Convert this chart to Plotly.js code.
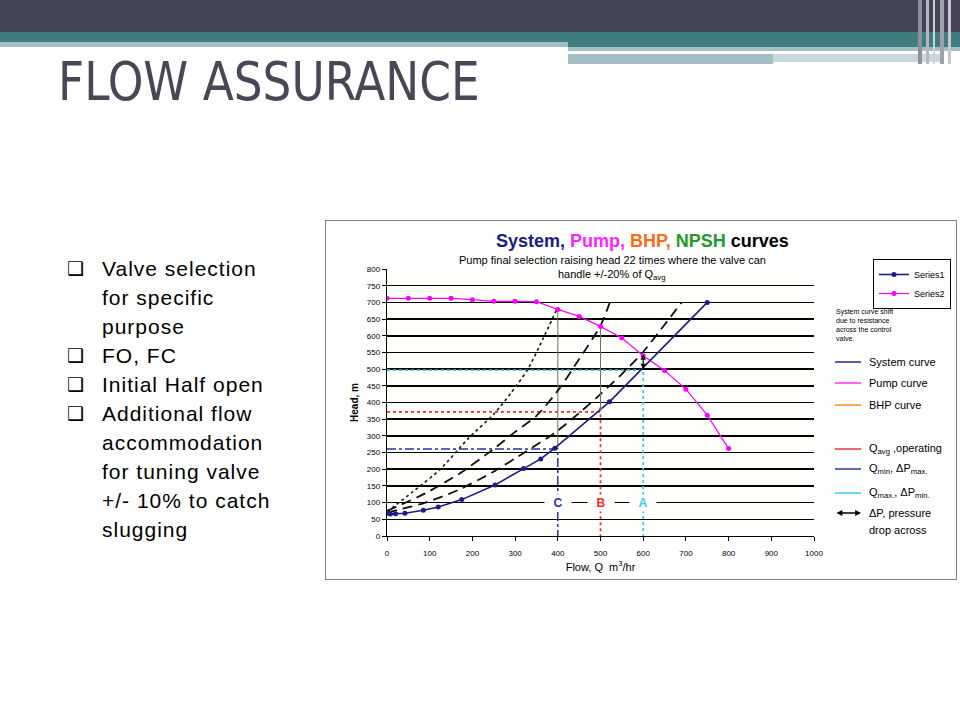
<!DOCTYPE html>
<html><head><meta charset="utf-8">
<script src="https://cdn.plot.ly/plotly-3.0.1.min.js"></script>
<style>
html,body{margin:0;padding:0;background:#fff;}
#slide{position:relative;width:960px;height:720px;overflow:hidden;background:#fff;font-family:"Liberation Sans",Arial,sans-serif;}
.band{position:absolute;}
#title{position:absolute;left:58px;top:52px;font-family:"Liberation Sans Narrow","DejaVu Sans Condensed","Liberation Sans",sans-serif;font-size:54px;line-height:60px;color:#474856;white-space:nowrap;transform:scaleX(0.935);transform-origin:0 0;}
#bullets{position:absolute;left:68px;top:254px;font-size:21px;line-height:29px;color:#000;white-space:nowrap;letter-spacing:1px;}
.b{position:relative;padding-left:34px;}
.b .m{position:absolute;left:-1px;top:0px;font-family:"DejaVu Sans",sans-serif;font-size:19px;letter-spacing:0;}
#frame{position:absolute;left:325px;top:220px;width:632px;height:360px;border:1px solid #808080;box-sizing:border-box;}
#chart{position:absolute;left:326px;top:221px;width:630px;height:358px;}
</style></head>
<body>
<div id="slide">
  <div class="band" style="left:0;top:0;width:960px;height:32px;background:#434456;"></div>
  <div class="band" style="left:0;top:32px;width:960px;height:10px;background:#407d81;"></div>
  <div class="band" style="left:0;top:42px;width:568px;height:5px;background:#a4bfc3;"></div>
  <div class="band" style="left:568px;top:42px;width:392px;height:5px;background:#407d81;"></div>
  <div class="band" style="left:568px;top:47px;width:392px;height:4px;background:#a4bfc3;"></div>
  <div class="band" style="left:568px;top:54px;width:205px;height:10px;background:#a4bfc3;"></div>
  <div class="band" style="left:773px;top:54px;width:170px;height:8px;background:#c9d9db;"></div>
  <div class="band" style="left:918px;top:0;width:4px;height:64px;background:#8d8f99;"></div>
  <div class="band" style="left:926px;top:0;width:3px;height:64px;background:#b6b8c0;"></div>
  <div class="band" style="left:933px;top:0;width:2px;height:64px;background:#d0d2d8;"></div>
  <div class="band" style="left:940px;top:0;width:4px;height:64px;background:#9fa1aa;"></div>
  <div class="band" style="left:948px;top:0;width:3px;height:64px;background:#c5c7cd;"></div>
  <div id="title">FLOW ASSURANCE</div>
  <div id="bullets">
    <div class="b"><span class="m">&#x2751;</span>Valve selection<br>for specific<br>purpose</div>
    <div class="b"><span class="m">&#x2751;</span>FO, FC</div>
    <div class="b"><span class="m">&#x2751;</span>Initial Half open</div>
    <div class="b"><span class="m">&#x2751;</span>Additional flow<br>accommodation<br>for tuning valve<br>+/- 10% to catch<br>slugging</div>
  </div>
  <div id="frame"></div>
  <div id="chart"></div>
</div>
<script>
// ---- data ----
const pumpQ = [0, 50, 100, 150, 200, 250, 300, 350, 400, 450, 500, 550, 600, 650, 700, 750, 800];
const pumpH = [712, 712, 712, 712, 708, 703, 703, 702, 679, 658, 628, 593, 540, 496, 440, 362, 262];

const sysQ = [0, 8, 20, 42, 85, 120, 175, 253, 320, 360, 393, 521, 750];
const sysH = [68, 66, 67, 68, 77, 87, 109, 153, 202, 231, 263, 402, 700];

// system curves shifted by control-valve resistance
const dotQ = [0, 60, 125, 190, 250, 290, 330, 365, 398];
const dotH = [73, 132, 200, 292, 365, 428, 500, 590, 680];
const dash1Q = [0, 90, 171, 249, 300, 350, 401, 450, 500, 522];
const dash1H = [75, 128, 188, 260, 312, 360, 437, 530, 630, 700];
const dash2Q = [0, 90, 167, 246, 324, 393, 456, 500, 550, 597, 650, 690];
const dash2H = [70, 100, 138, 190, 252, 309, 375, 425, 485, 547, 633, 700];

// operating points C, B, A
const refLabels = ['C', 'B', 'A'];
const refQ = [400, 500, 600];
const refH = [261, 372, 497];
const dpTop = [680, 627, 549];
const dpBottom = [263, 372, 500];
const labelH = 100;

const yTicks = [0, 50, 100, 150, 200, 250, 300, 350, 400, 450, 500, 550, 600, 650, 700, 750, 800];
const xTicks = [0, 100, 200, 300, 400, 500, 600, 700, 800, 900, 1000];

// ---- styles ----
const NAVY = '#1c1c82', MAG = '#ff00ff';
const refColors = ['#2433b0', '#ff2a2a', '#3ccbe6'];
const refDash = ['dashdot', 'dot', 'dot'];

const traces = [];
for (let i = 0; i < 3; i++) {
  traces.push({x: [0, refQ[i], refQ[i]], y: [refH[i], refH[i], 0], mode: 'lines',
    line: {color: refColors[i], width: i === 0 ? 1.5 : 1.7, dash: refDash[i]}, showlegend: false, hoverinfo: 'skip'});
}
traces.push({x: [refQ[0], refQ[0]], y: [dpBottom[0], dpTop[0]], mode: 'lines',
  line: {color: '#6d6d6d', width: 1}, showlegend: false, hoverinfo: 'skip'});
traces.push({x: dotQ, y: dotH, mode: 'lines', line: {color: '#222', width: 1.7, dash: 'dot', shape: 'spline', smoothing: 0.6}, showlegend: false});
traces.push({x: dash1Q, y: dash1H, mode: 'lines', line: {color: '#111', width: 1.8, dash: '10px,6px', shape: 'spline', smoothing: 0.6}, showlegend: false});
traces.push({x: dash2Q, y: dash2H, mode: 'lines', line: {color: '#111', width: 1.8, dash: '10px,6px', shape: 'spline', smoothing: 0.6}, showlegend: false});
traces.push({x: pumpQ, y: pumpH, name: 'Series2', mode: 'lines+markers', line: {color: MAG, width: 1.2}, marker: {color: MAG, size: 5}});
traces.push({x: sysQ, y: sysH, name: 'Series1', mode: 'lines+markers', line: {color: NAVY, width: 1.6}, marker: {color: NAVY, size: 5}});

const P = (px) => (px - 387) / 427;
const PY = (py) => (536 - py) / 267;

const annotations = [];
annotations.push({xref: 'paper', yref: 'paper', x: P(642), y: PY(241), showarrow: false, xanchor: 'center', yanchor: 'middle',
  font: {size: 18, family: 'Liberation Sans, Arial, sans-serif'},
  text: '<b><span style="color:#1c1c82">System,</span> <span style="color:#ff22ff">Pump,</span> <span style="color:#ff6a1a">BHP,</span> <span style="color:#1f9a2a">NPSH</span> <span style="color:#000">curves</span></b>'});
annotations.push({xref: 'paper', yref: 'paper', x: P(612), y: PY(260), showarrow: false, xanchor: 'center', yanchor: 'middle',
  font: {size: 11}, text: 'Pump final selection raising head 22 times where the valve can'});
annotations.push({xref: 'paper', yref: 'paper', x: P(612), y: PY(275), showarrow: false, xanchor: 'center', yanchor: 'middle',
  font: {size: 11}, text: 'handle +/-20% of Q<sub>avg</sub>'});
for (let i = 0; i < 3; i++) {
  annotations.push({x: refQ[i], y: labelH, xref: 'x', yref: 'y', text: '<b>' + refLabels[i] + '</b>', showarrow: false,
    bgcolor: '#ffffff', width: 24, height: 14, font: {size: 12, color: refColors[i]}});
}
annotations.push({x: refQ[1], y: dpBottom[1], ax: refQ[1], ay: dpTop[1], xref: 'x', yref: 'y', axref: 'x', ayref: 'y', text: '',
  showarrow: true, arrowhead: 2, arrowsize: 0.8, arrowwidth: 1, arrowcolor: '#6d6d6d', arrowside: 'end'});
annotations.push({x: refQ[2], y: dpBottom[2], ax: refQ[2], ay: dpTop[2], xref: 'x', yref: 'y', axref: 'x', ayref: 'y', text: '',
  showarrow: true, arrowhead: 2, arrowsize: 0.9, arrowwidth: 1.2, arrowcolor: '#000', arrowside: 'end+start'});

// right-hand key
annotations.push({xref: 'paper', yref: 'paper', x: P(834), y: PY(306), xanchor: 'left', yanchor: 'top', align: 'left', showarrow: false,
  font: {size: 7}, text: 'System curve shift<br>due to resistance<br>across the control<br>valve.'});
const keyLabels = ['System curve', 'Pump curve', 'BHP curve', 'Q<sub>avg</sub> ,operating', 'Q<sub>min</sub>, \u0394P<sub>max.</sub>', 'Q<sub>max.</sub>, \u0394P<sub>min.</sub>'];
const keyColors = ['#2b2b8c', '#ff33ff', '#ff8c1a', '#e23a3a', '#2a3aa8', '#33ccee'];
const keyY = [362, 383, 405, 449, 469, 493];
const shapes = [];
for (let i = 0; i < keyLabels.length; i++) {
  shapes.push({type: 'line', xref: 'paper', yref: 'paper', x0: P(835), x1: P(861), y0: PY(keyY[i]), y1: PY(keyY[i]),
    line: {color: keyColors[i], width: 1.5}});
  annotations.push({xref: 'paper', yref: 'paper', x: P(867), y: PY(keyY[i]), xanchor: 'left', yanchor: 'middle', showarrow: false,
    font: {size: 11}, text: keyLabels[i]});
}
annotations.push({xref: 'paper', yref: 'paper', x: P(861), y: PY(513), ax: -26, ay: 0, text: '', showarrow: true,
  arrowhead: 2, arrowsize: 0.9, arrowwidth: 1.3, arrowcolor: '#000', arrowside: 'end+start'});
annotations.push({xref: 'paper', yref: 'paper', x: P(867), y: PY(513), xanchor: 'left', yanchor: 'middle', showarrow: false,
  font: {size: 11}, text: '\u0394P, pressure'});
annotations.push({xref: 'paper', yref: 'paper', x: P(867), y: PY(530), xanchor: 'left', yanchor: 'middle', showarrow: false,
  font: {size: 11}, text: 'drop across'});

const layout = {
  width: 630, height: 358,
  margin: {l: 61, r: 142, t: 48, b: 43, pad: 0, autoexpand: false},
  paper_bgcolor: '#ffffff', plot_bgcolor: '#fffffb',
  font: {family: 'Liberation Sans, Arial, sans-serif', color: '#000', size: 9},
  showlegend: true,
  legend: {x: P(873), y: PY(259), xanchor: 'left', yanchor: 'top', bordercolor: '#000', borderwidth: 1,
    bgcolor: '#ffffff', font: {size: 9}, itemwidth: 30, tracegroupgap: 0, traceorder: 'reversed'},
  xaxis: {range: [0, 1000], tickvals: xTicks, showline: true, linecolor: '#000', linewidth: 1.2, ticks: 'outside', ticklen: 4,
    tickcolor: '#000', showgrid: false, zeroline: false, tickfont: {size: 8}, ticklabelstandoff: 5,
    title: {text: 'Flow, Q  m<sup>3</sup>/hr', font: {size: 11}, standoff: 6}, fixedrange: true},
  yaxis: {range: [0, 800], tickvals: yTicks, showline: true, linecolor: '#000', linewidth: 1.2, ticks: 'outside', ticklen: 4,
    tickcolor: '#000', showgrid: true, gridcolor: '#000', gridwidth: 1.6, zeroline: false, tickfont: {size: 8},
    title: {text: '<b>Head, m</b>', font: {size: 10}, standoff: 6}, fixedrange: true},
  annotations: annotations,
  shapes: shapes
};

Plotly.newPlot('chart', traces, layout, {displayModeBar: false, staticPlot: true});
</script>
</body></html>
